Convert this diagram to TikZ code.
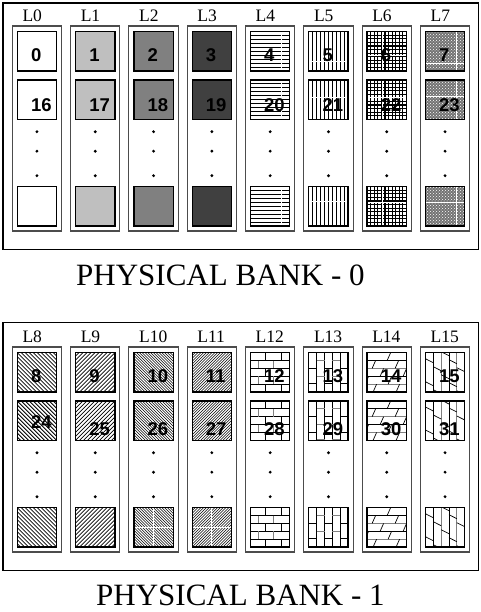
\documentclass[tikz,border=0pt]{standalone}
\usepackage{fontspec}
\setmainfont{Liberation Serif}
\newfontfamily\numfont{Liberation Sans}
\usetikzlibrary{patterns}
\tikzset{
  bankbox/.style={draw=black, line width=1.3, outer sep=0, inner sep=0, anchor=north west},
  lane/.style={draw=black!70, line width=1.1, outer sep=0, inner sep=0, anchor=north west, minimum width=49.3pt, minimum height=205pt},
  cell/.style={draw=black, line width=1.3, minimum size=39.3pt, inner sep=0, outer sep=0, anchor=north west},
  hl/.style={black, line width=0.9},
  art/.style={white, line width=0.8},
  lanelbl/.style={font=\fontsize{17.5}{17.5}\selectfont, anchor=base west, inner sep=0},
  num/.style={font=\numfont\bfseries\fontsize{18.5}{18.5}\selectfont, anchor=base west, inner sep=0},
  dotnode/.style={fill=black, circle, inner sep=0, minimum size=3.2pt},
  banktitle/.style={font=\fontsize{31}{31}\selectfont, anchor=base west, inner sep=0},
}
% #1 pattern id, #2 x (left), #3 y (top), #4 row
\newcommand\cellpat[4]{%
\begin{scope}
\clip (#2,#3) rectangle ++(39.3,39.3);
\ifcase#1\relax
\or \fill[black!25] (#2,#3) rectangle ++(39.3,39.3);
\or \fill[black!50] (#2,#3) rectangle ++(39.3,39.3);
\or \fill[black!75] (#2,#3) rectangle ++(39.3,39.3);
\or % 4 horizontal lines
  \foreach \k in {1,...,9} {\draw[hl] (#2,#3+3.93*\k) -- ++(39.3,0);}
  \draw[art] (#2+31,#3) -- ++(0,39.3);
\or % 5 vertical lines
  \foreach \k in {1,...,9} {\draw[hl] (#2+3.93*\k,#3) -- ++(0,39.3);}
  \edef\artoff{\ifcase#4 30\or 17\else 15\fi}%
  \draw[art] (#2,#3+\artoff) -- ++(39.3,0);
\or % 6 grid
  \foreach \k in {1,...,10} {\draw[hl, line width=1.1] (#2,#3+3.57*\k) -- ++(39.3,0);
    \draw[hl, line width=1.1] (#2+3.57*\k,#3) -- ++(0,39.3);}
  \edef\artoff{\ifcase#4 24\or 17\else 16\fi}%
  \draw[art] (#2+15,#3) -- ++(0,39.3);
  \draw[art] (#2,#3+\artoff) -- ++(39.3,0);
\or % 7 checker
  \fill[black!55] (#2,#3) rectangle ++(39.3,39.3);
  \fill[pattern=crosshatch dots, pattern color=white] (#2,#3) rectangle ++(39.3,39.3);
  \edef\artoff{\ifcase#4 32\or 16\else 16\fi}%
  \draw[art] (#2+31,#3) -- ++(0,39.3);
  \draw[art] (#2,#3+\artoff) -- ++(39.3,0);
\or % 8 back diagonal
  \foreach \k in {-10,...,10} {\draw[hl, line width=0.8] (#2+4*\k,#3) -- ++(39.3,39.3);}
\or % 9 forward diagonal
  \foreach \k in {-10,...,10} {\draw[hl, line width=0.8] (#2+4*\k,#3+39.3) -- ++(39.3,-39.3);}
\or % 10 dense back diagonal
  \foreach \k in {-15,...,15} {\draw[hl, line width=0.55] (#2+2.8*\k,#3) -- ++(39.3,39.3);}
  \ifnum#4=2 \draw[art] (#2+19.6,#3) -- ++(0,39.3); \draw[art] (#2,#3+19.6) -- ++(39.3,0);\fi
\or % 11 dense forward diagonal
  \foreach \k in {-15,...,15} {\draw[hl, line width=0.55] (#2+2.8*\k,#3+39.3) -- ++(39.3,-39.3);}
  \ifnum#4=2 \draw[art] (#2+19.6,#3) -- ++(0,39.3); \draw[art] (#2,#3+19.6) -- ++(39.3,0);\fi
\or % 12 horizontal bricks
  \foreach \r in {1,...,4} {\draw[hl] (#2,#3+7.86*\r) -- ++(39.3,0);}
  \foreach \r in {0,2,4} {\foreach \m in {0,1} {\draw[hl] (#2+15.4+15.6*\m,#3+7.86*\r) -- ++(0,7.86);}}
  \foreach \r in {1,3} {\foreach \m in {0,1,2} {\draw[hl, black!50] (#2+7.7+15.6*\m,#3+7.86*\r) -- ++(0,7.86);}}
\or % 13 vertical bricks
  \foreach \c in {1,...,4} {\draw[hl] (#2+7.86*\c,#3) -- ++(0,39.3);}
  \foreach \c in {0,2,4} {\foreach \m in {0,1} {\draw[hl] (#2+7.86*\c,#3+15.4+15.6*\m) -- ++(7.86,0);}}
  \foreach \c in {1,3} {\foreach \m in {0,1,2} {\draw[hl, black!50] (#2+7.86*\c,#3+7.7+15.6*\m) -- ++(7.86,0);}}
\or % 14 shingles horizontal
  \foreach \r in {1,3} {\draw[hl] (#2,#3+7.86*\r) -- ++(39.3,0);}
  \foreach \r in {2,4} {\draw[hl, black!50] (#2,#3+7.86*\r) -- ++(39.3,0);}
  \foreach \r in {0,...,4} {\pgfmathsetmacro\xo{mod(20+8*\r,23)}%
    \foreach \m in {-1,0,1} {\draw[hl, line width=0.7] (#2+\xo+23*\m,#3+7.86*\r+7.86) -- ++(3.5,-7.86);}}
\or % 15 shingles vertical
  \foreach \c in {1,3} {\draw[hl] (#2+7.86*\c,#3) -- ++(0,39.3);}
  \foreach \c in {2,4} {\draw[hl, black!50] (#2+7.86*\c,#3) -- ++(0,39.3);}
  \foreach \c in {0,...,4} {\pgfmathsetmacro\yo{mod(6+8*\c,23)}%
    \foreach \m in {-1,0,1} {\draw[hl, line width=0.7] (#2+7.86*\c,#3+\yo+23*\m) -- ++(7.86,4);}}
\fi
\end{scope}}
\begin{document}
\begin{tikzpicture}[x=1pt,y=-1pt]
\useasboundingbox (0,0) rectangle (480,612);
\node[bankbox, minimum width=475.5pt, minimum height=246.5pt] (bank0) at (3,3) {};
\node[bankbox, minimum width=475.5pt, minimum height=248pt] (bank1) at (3,322.7) {};
\foreach \b in {0,1} {
  \pgfmathsetmacro\oy{321*\b}
  \foreach \i in {0,...,7} {
    \pgfmathtruncatemacro\n{8*\b+\i}
    \pgfmathtruncatemacro\m{\n+16}
    \pgfmathsetmacro\cx{12.3+58.3*\i}
    \pgfmathsetmacro\sx{\cx+5}
    \node[lane] (lane\n) at (\cx,26+\oy) {};
    \node[lanelbl] (lbl\n) at (\cx+10,21.7+\oy) {L\n};
    \cellpat{\n}{\sx}{31.7+\oy}{0}
    \cellpat{\n}{\sx}{80+\oy}{1}
    \cellpat{\n}{\sx}{186.7+\oy}{2}
    \node[cell] (c\n-0) at (\sx,31.7+\oy) {};
    \node[cell] (c\n-1) at (\sx,80+\oy) {};
    \node[cell] (c\n-2) at (\sx,186.7+\oy) {};
    \pgfmathsetmacro\dyb{\b==0 ? 31.7 : (\n==8 ? 27.6 : 34.3)}
    \node[num] (t\n) at (\sx+13.5,31.7+\oy+29.8) {\n};
    \node[num] (u\n) at (\sx+13.5,80+\oy+\dyb) {\m};
    \node[dotnode] (d\n-a) at (\cx+24.65,131.7+\oy) {};
    \node[dotnode] (d\n-b) at (\cx+24.65,151.2+\oy) {};
    \node[dotnode] (d\n-c) at (\cx+24.65,175.7+\oy) {};
  }
}
\node[banktitle] (title0) at (76,285) {PHYSICAL BANK - 0};
\node[banktitle] (title1) at (96,605) {PHYSICAL BANK - 1};
\end{tikzpicture}
\end{document}
